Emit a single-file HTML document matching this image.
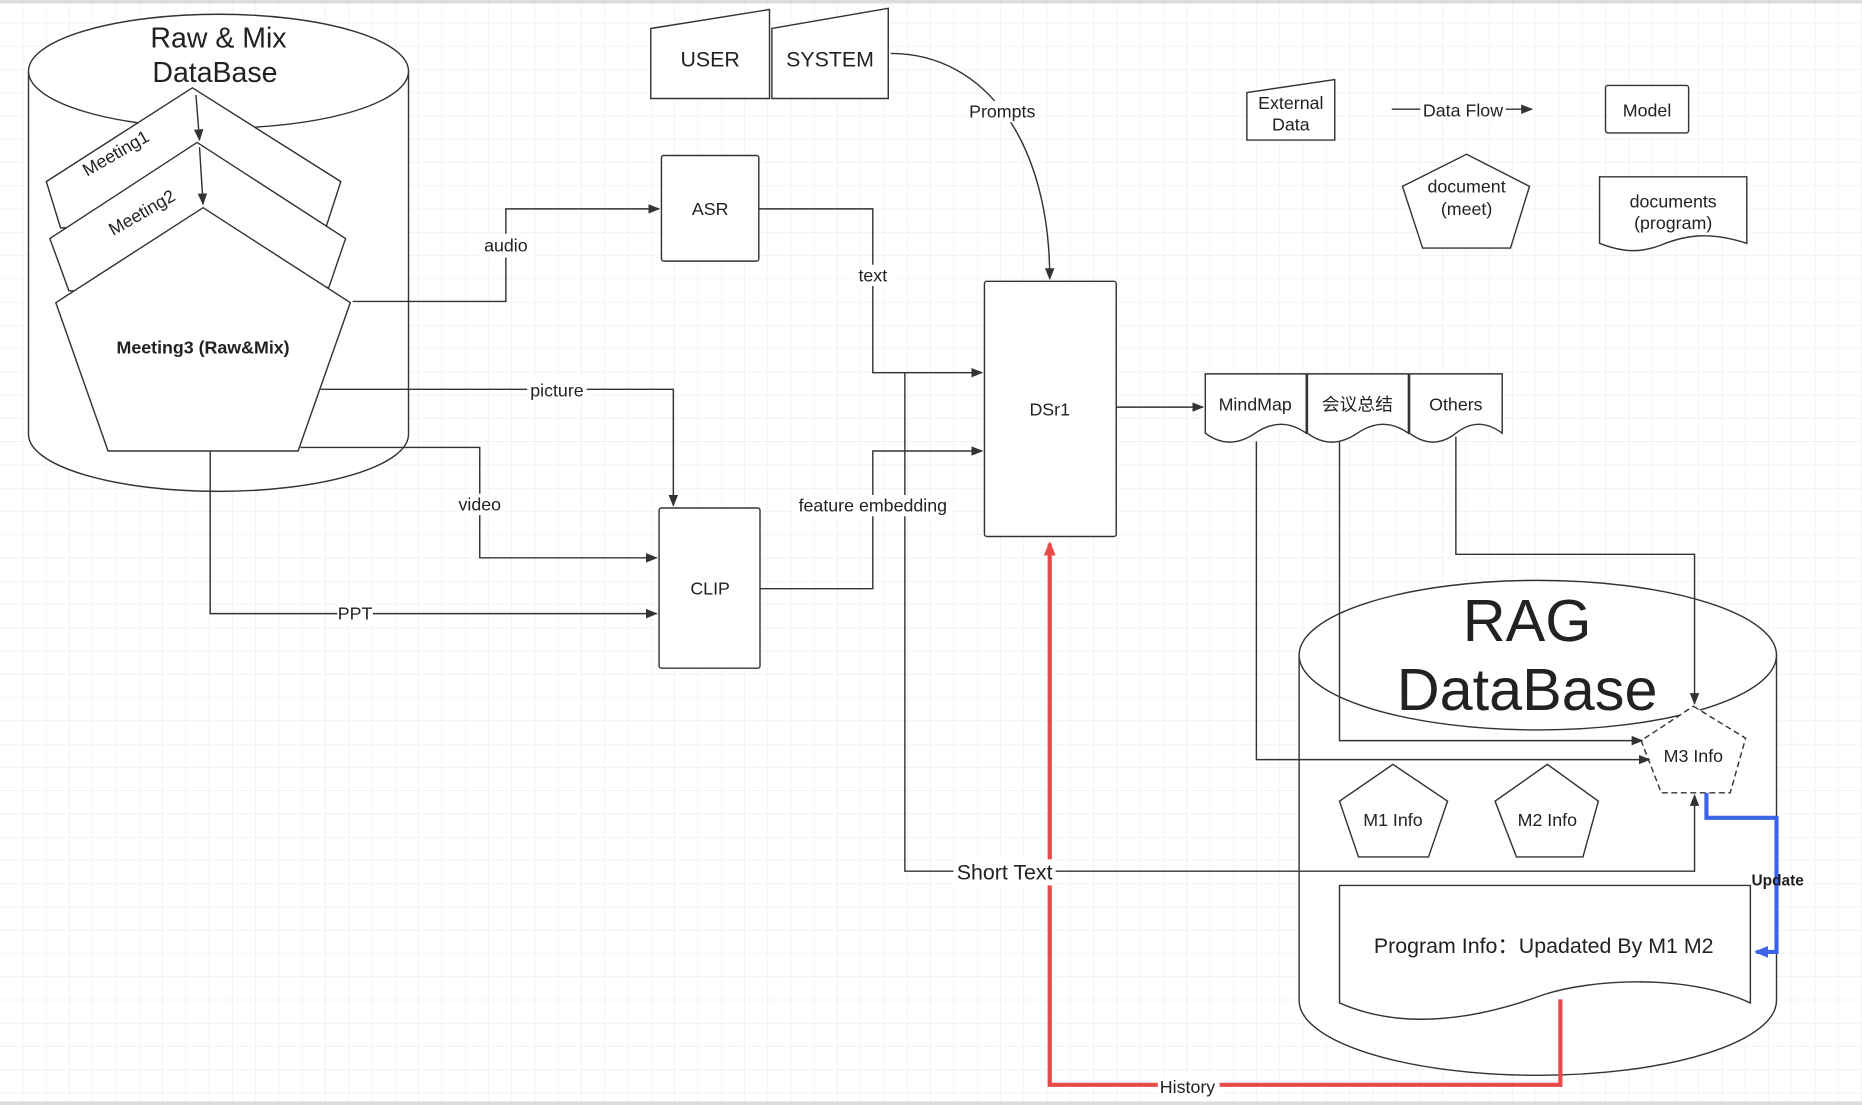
<!DOCTYPE html>
<html><head><meta charset="utf-8"><style>
html,body{margin:0;padding:0;background:#fff;}
svg{display:block;}
text{font-family:"Liberation Sans","Noto Sans CJK SC",sans-serif;fill:#222;}
</style></head><body>
<svg width="1862" height="1105" viewBox="0 0 1568 931" preserveAspectRatio="none" xmlns="http://www.w3.org/2000/svg">
<defs>
<pattern id="g" width="19.6" height="19.6" patternUnits="userSpaceOnUse"><path d="M19.6 0V19.6H0" fill="none" stroke="#ececec" stroke-width="1"/></pattern>
<marker id="a" markerWidth="10" markerHeight="8" refX="9" refY="4" orient="auto" markerUnits="userSpaceOnUse"><path d="M0,0L10,4L0,8z" fill="#333"/></marker>
<marker id="ar" markerWidth="12" markerHeight="10" refX="10" refY="5" orient="auto" markerUnits="userSpaceOnUse"><path d="M0,0L12,5L0,10z" fill="#e84a4a"/></marker>
<marker id="ab" markerWidth="12" markerHeight="10" refX="10" refY="5" orient="auto" markerUnits="userSpaceOnUse"><path d="M0,0L12,5L0,10z" fill="#3b64e8"/></marker>
</defs>
<rect width="1568" height="931" fill="url(#g)"/>
<rect width="1568" height="3" fill="#ddd"/>
<rect y="928" width="1568" height="3" fill="#ddd"/>
<g fill="#fff" stroke="#333" stroke-width="1.2">
<!-- Raw cylinder -->
<path d="M24,60 V366 A160,48 0 0 0 344,366 V60"/>
<ellipse cx="184" cy="60" rx="160" ry="48"/>
<!-- meetings -->
<polygon points="162,74 287,153 275,190 51,192 39,153"/>
<polygon points="166,120 291,201 277,242 58,245 42,201"/>
<polygon points="171,175 295,255 251,380 91,380 47,255"/>
<!-- USER SYSTEM -->
<polygon points="548,24 648,8 648,83 548,83"/>
<polygon points="650,24 748,7 748,83 650,83"/>
<rect x="557" y="131" width="82" height="89" rx="2"/>
<rect x="555" y="428" width="85" height="135" rx="2"/>
<rect x="829" y="237" width="111" height="215" rx="2"/>
<!-- tapes -->
<path d="M1015,315 H1100 V365 Q1079,350 1057,365 T1015,365 Z"/>
<path d="M1101,315 H1186 V365 Q1165,350 1143,365 T1101,365 Z"/>
<path d="M1187,315 H1265 V365 Q1245,350 1226,365 T1187,365 Z"/>
<!-- RAG cylinder -->
<path d="M1094,552 V843 A201,63 0 0 0 1496,843 V552"/>
<ellipse cx="1295" cy="552" rx="201" ry="63"/>
<polygon points="1173,644 1219,675 1203,722 1144,722 1128,675"/>
<polygon points="1303,644 1346,675 1333,722 1277,722 1259,675"/>
<path d="M1128,746 H1474 V845 C1420,820 1340,825 1300,838 C1240,860 1180,868 1128,845 Z"/>
<!-- legend -->
<polygon points="1050,78 1124,67 1124,118 1050,118"/>
<rect x="1352" y="72" width="70" height="40" rx="2"/>
<polygon points="1235,130 1288,157 1272,209 1198,209 1181,157"/>
<path d="M1347,149 H1471 V205 C1440,195 1420,198 1400,206 C1380,214 1365,212 1347,205 Z"/>
</g>
<polygon points="1426,595 1470,622 1457,668 1399,668 1382,624" fill="#fff" stroke="#333" stroke-width="1.2" stroke-dasharray="5,3"/>
<g fill="none" stroke="#333" stroke-width="1.2">
<path d="M165,80 L168,118" marker-end="url(#a)"/>
<path d="M168,124 L171,172" marker-end="url(#a)"/>
<path d="M297,254 H426 V176 H555" marker-end="url(#a)"/>
<path d="M639,176 H735 V314 H827" marker-end="url(#a)"/>
<path d="M270,328 H567 V426" marker-end="url(#a)"/>
<path d="M253,377 H404 V470 H553" marker-end="url(#a)"/>
<path d="M177,380 V517 H553" marker-end="url(#a)"/>
<path d="M640,496 H735 V380 H827" marker-end="url(#a)"/>
<path d="M750,45 C830,45 884,120 884,235" marker-end="url(#a)"/>
<path d="M940,343 H1013" marker-end="url(#a)"/>
<path d="M762,314 V734 H1427 V670" marker-end="url(#a)"/>
<path d="M1058,372 V640 H1389" marker-end="url(#a)"/>
<path d="M1128,372 V624 H1383" marker-end="url(#a)"/>
<path d="M1226,368 V467 H1427 V593" marker-end="url(#a)"/>
<path d="M1172,92 H1290" marker-end="url(#a)"/>
</g>
<path d="M1314,842 V914 H884 V458" fill="none" stroke="#e84a4a" stroke-width="3.5" marker-end="url(#ar)"/>
<path d="M1437,668 V689 H1496 V802 H1479" fill="none" stroke="#3b64e8" stroke-width="3.5" marker-end="url(#ab)"/>
<g text-anchor="middle" font-size="15">
<rect x="403" y="197" width="46" height="20" fill="#fff"/>
<text x="426" y="212">audio</text>
<rect x="718" y="223" width="34" height="18" fill="#fff"/>
<text x="735" y="237">text</text>
<rect x="444" y="320" width="50" height="18" fill="#fff"/>
<text x="469" y="334">picture</text>
<rect x="383" y="416" width="42" height="18" fill="#fff"/>
<text x="404" y="430">video</text>
<rect x="284" y="509" width="30" height="17" fill="#fff"/>
<text x="299" y="522">PPT</text>
<rect x="667" y="417" width="136" height="18" fill="#fff"/>
<text x="735" y="431">feature embedding</text>
<rect x="813" y="85" width="62" height="18" fill="#fff"/>
<text x="844" y="99">Prompts</text>
<rect x="803" y="724" width="86" height="22" fill="#fff"/>
<text x="846" y="741" font-size="18">Short Text</text>
<rect x="975" y="907" width="52" height="18" fill="#fff"/>
<text x="1000" y="921">History</text>
<rect x="1196" y="84" width="72" height="18" fill="#fff"/>
<text x="1232" y="98">Data Flow</text>
<text x="184" y="40" font-size="24">Raw &amp; Mix</text>
<text x="181" y="69" font-size="24">DataBase</text>
<text x="98" y="134" transform="rotate(-30 98 130)" font-size="15">Meeting1</text>
<text x="120" y="184" transform="rotate(-30 120 180)" font-size="15">Meeting2</text>
<text x="171" y="298" font-weight="bold">Meeting3 (Raw&amp;Mix)</text>
<text x="598" y="56" font-size="18">USER</text>
<text x="699" y="56" font-size="18">SYSTEM</text>
<text x="598" y="181">ASR</text>
<text x="598" y="501">CLIP</text>
<text x="884" y="350">DSr1</text>
<text x="1057" y="346">MindMap</text>
<text x="1143" y="346">会议总结</text>
<text x="1226" y="346">Others</text>
<text x="1286" y="540" font-size="50">RAG</text>
<text x="1286" y="598" font-size="50">DataBase</text>
<text x="1426" y="642">M3 Info</text>
<text x="1173" y="696">M1 Info</text>
<text x="1303" y="696">M2 Info</text>
<text x="1300" y="803" font-size="18">Program Info：Upadated By M1 M2</text>
<text x="1497" y="746" font-size="13" font-weight="bold">Update</text>
<text x="1087" y="92">External</text>
<text x="1087" y="110">Data</text>
<text x="1387" y="98">Model</text>
<text x="1235" y="162">document</text>
<text x="1235" y="181">(meet)</text>
<text x="1409" y="175">documents</text>
<text x="1409" y="193">(program)</text>
</g>
</svg>
</body></html>
